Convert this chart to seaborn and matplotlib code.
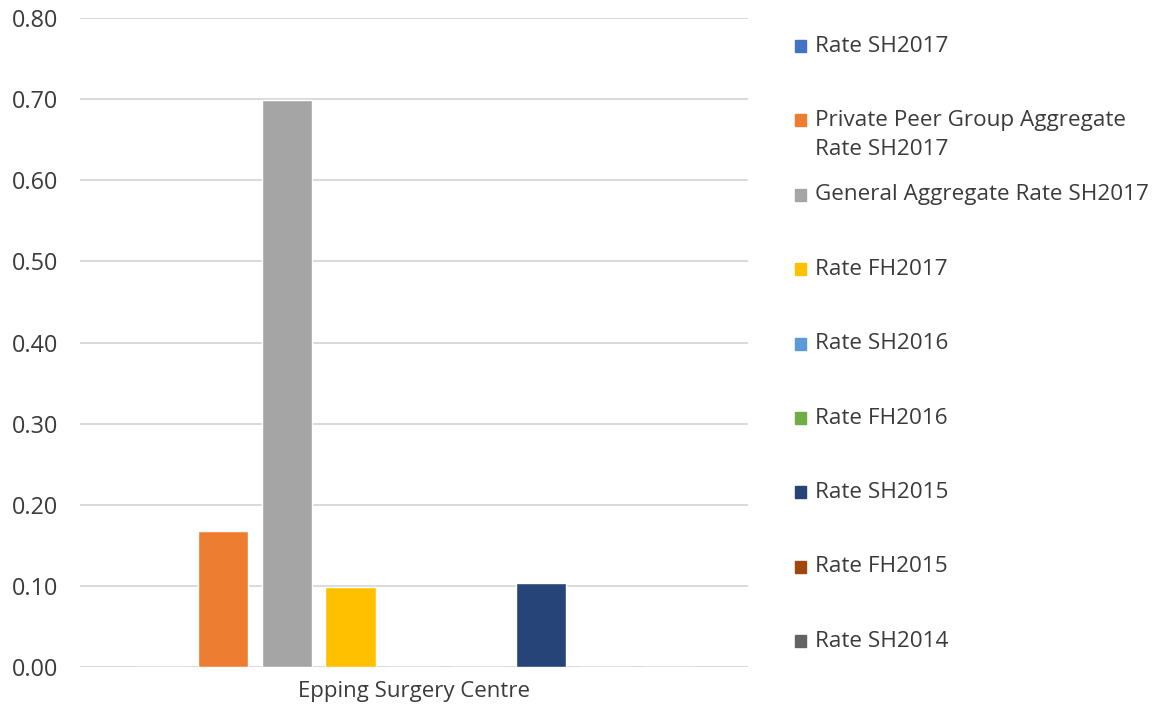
import pandas as pd
import seaborn as sns
import matplotlib.pyplot as plt
from matplotlib.patches import Rectangle
from matplotlib.ticker import FormatStrFormatter

# data
category = ["Epping Surgery Centre"]
series = ["Rate SH2017", "Private Peer Group Aggregate\nRate SH2017", "General Aggregate Rate SH2017",
          "Rate FH2017", "Rate SH2016", "Rate FH2016", "Rate SH2015", "Rate FH2015", "Rate SH2014"]
values = [0.0, 0.168, 0.699, 0.099, 0.0, 0.0, 0.104, 0.0, 0.0]
colors = ["#4472C4", "#ED7D31", "#A5A5A5", "#FFC000", "#5B9BD5", "#70AD47", "#264478", "#9E480E", "#636363"]

df = pd.DataFrame({"Centre": category * len(series), "Series": series, "Rate": values})

sns.set_style("white")
plt.rcParams['font.family'] = ['Open Sans', 'DejaVu Sans']
txt_col = "#3b3b3b"

fig = plt.figure(figsize=(11.59, 7.15), dpi=100)
ax = fig.add_axes([80/1159, 48/715, 668/1159, 649/715])

sns.barplot(data=df, x="Centre", y="Rate", hue="Series", hue_order=series,
            palette=colors, saturation=1, width=0.856, gap=0.21, legend=False, ax=ax, zorder=3)

ax.set_xlim(-0.5, 0.5)
ax.set_ylim(0, 0.8)
ax.set_yticks([i / 10 for i in range(9)])
ax.yaxis.set_major_formatter(FormatStrFormatter('%.2f'))
ax.grid(axis='y', color='#d9d9d9', linewidth=1.4, zorder=0)
ax.set_axisbelow(True)
sns.despine(ax=ax, left=True, bottom=True, top=True, right=True)
ax.set_xlabel("")
ax.set_ylabel("")
ax.tick_params(axis='y', length=0, pad=16, labelsize=16.8, labelcolor=txt_col)
ax.tick_params(axis='x', length=0, pad=10, labelsize=16, labelcolor=txt_col)

# legend drawn by hand to mimic Excel layout (handle aligned with first line)
top_y = 1 - 46/715
step = 74.4/715
line_gap = 29/715
for i, (name, col) in enumerate(zip(series, colors)):
    y = top_y - i * step
    fig.patches.append(Rectangle((795/1159, y - 6/715), 11/1159, 12/715,
                                 transform=fig.transFigure, color=col))
    for k, line in enumerate(name.split("\n")):
        fig.text(815/1159, y - k * line_gap, line, fontsize=16.2, color=txt_col,
                 va='center', ha='left')

plt.savefig("out.png", dpi=100)
